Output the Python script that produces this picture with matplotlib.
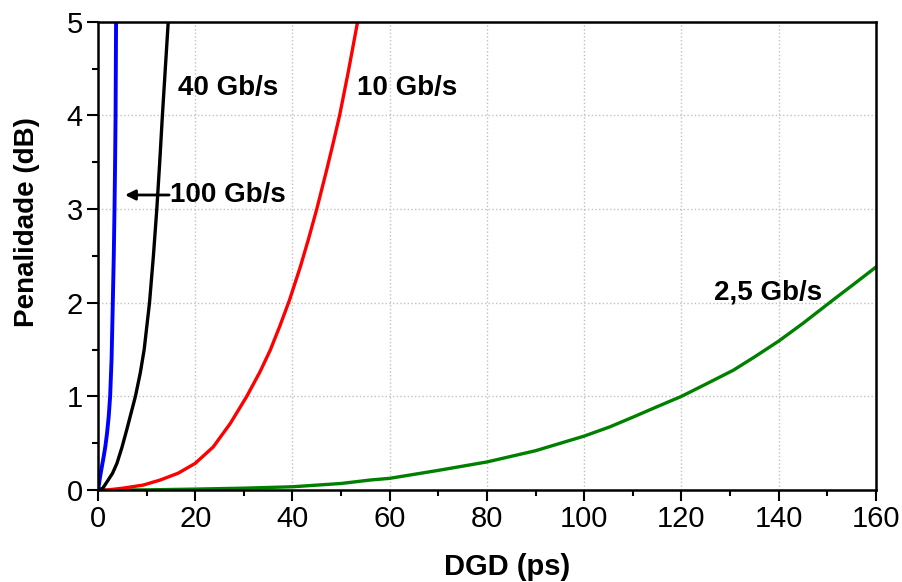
import numpy as np
import matplotlib
matplotlib.use('Agg')
import matplotlib.pyplot as plt
from matplotlib.ticker import MultipleLocator

plt.rcParams['font.family'] = ['Liberation Sans', 'DejaVu Sans']

# Penalidade vs DGD
x_100 = [0, 0.2, 0.43, 0.8, 1.15, 1.5, 1.85, 2.2, 2.5, 2.8, 3.05, 3.25, 3.4, 3.52, 3.62, 3.72]
y_100 = [0, 0.06, 0.14, 0.25, 0.35, 0.46, 0.6, 0.78, 1.0, 1.4, 2.0, 2.5, 3.0, 3.5, 4.0, 5.0]

x_40 = [0, 1.0, 2.1, 3.0, 3.9, 4.9, 5.9, 6.8, 7.7, 8.7, 9.5, 10.6, 11.4, 12.1, 12.7, 13.25, 13.85, 14.45]
y_40 = [0, 0.02, 0.107, 0.18, 0.285, 0.45, 0.64, 0.82, 1.0, 1.25, 1.5, 2.0, 2.5, 3.0, 3.5, 4.0, 4.5, 5.0]

x_10 = [0, 1.8, 5.1, 9.3, 12.8, 16.5, 20, 23.7, 27.2, 30.6, 33.3, 35.4, 37.4, 39.4,
        41.6, 43.3, 45, 47.0, 48.4, 49.7, 51.5, 53.4]
y_10 = [0, 0.0, 0.02, 0.053, 0.107, 0.18, 0.285, 0.46, 0.71, 1.0, 1.26, 1.49, 1.75, 2.03,
        2.38, 2.68, 3.0, 3.41, 3.71, 4.0, 4.47, 5.0]

x_25 = [0, 10, 20, 30, 40, 50, 56, 60, 70, 80, 90, 100, 105.3, 110.1, 115, 120, 125,
        130.7, 135, 140, 145, 151.2, 155, 160]
y_25 = [0, 0.002, 0.01, 0.02, 0.035, 0.07, 0.107, 0.125, 0.21, 0.30, 0.42, 0.576, 0.675, 0.78,
        0.89, 1.0, 1.13, 1.28, 1.42, 1.59, 1.78, 2.03, 2.18, 2.38]

fig = plt.figure(figsize=(9.03, 5.82), dpi=100)
ax = fig.add_axes([0.1085, 0.158, 0.8615, 0.8047])

ax.plot(x_25, y_25, color='#008000', lw=2.4, solid_joinstyle='round')
ax.plot(x_10, y_10, color='red', lw=2.4, solid_joinstyle='round')
ax.plot(x_40, y_40, color='black', lw=2.4, solid_joinstyle='round')
ax.plot(x_100, y_100, color='blue', lw=2.8, solid_joinstyle='round')

ax.set_xlim(0, 160)
ax.set_ylim(0, 5)
ax.xaxis.set_major_locator(MultipleLocator(20))
ax.xaxis.set_minor_locator(MultipleLocator(10))
ax.yaxis.set_major_locator(MultipleLocator(1))
ax.yaxis.set_minor_locator(MultipleLocator(0.5))
ax.tick_params(which='major', direction='out', length=8, width=1.5, labelsize=21, pad=3)
ax.tick_params(which='minor', direction='out', length=4, width=1.5)
for s in ax.spines.values():
    s.set_linewidth(1.8)
ax.grid(True, which='major', color='#c0c0c0', linestyle=':', linewidth=1.0)

ax.set_xlabel('DGD (ps)', fontsize=21, fontweight='bold')
ax.set_ylabel('Penalidade (dB)', fontsize=20, fontweight='bold')
ax.xaxis.set_label_coords(0.526, -0.1345)
ax.yaxis.set_label_coords(-0.075, 0.572)

txt = dict(fontsize=20, fontweight='bold', va='center', ha='left')
ax.text(16.5, 4.29, '40 Gb/s', **txt)
ax.text(53.3, 4.29, '10 Gb/s', **txt)
ax.text(126.8, 2.11, '2,5 Gb/s', **txt)
ax.annotate('', xy=(5.0, 3.15), xytext=(15.2, 3.15),
            arrowprops=dict(arrowstyle='-|>', color='black', lw=2, mutation_scale=15))
ax.text(14.8, 3.15, '100 Gb/s', **txt)

fig.savefig('out.png', dpi=100)
